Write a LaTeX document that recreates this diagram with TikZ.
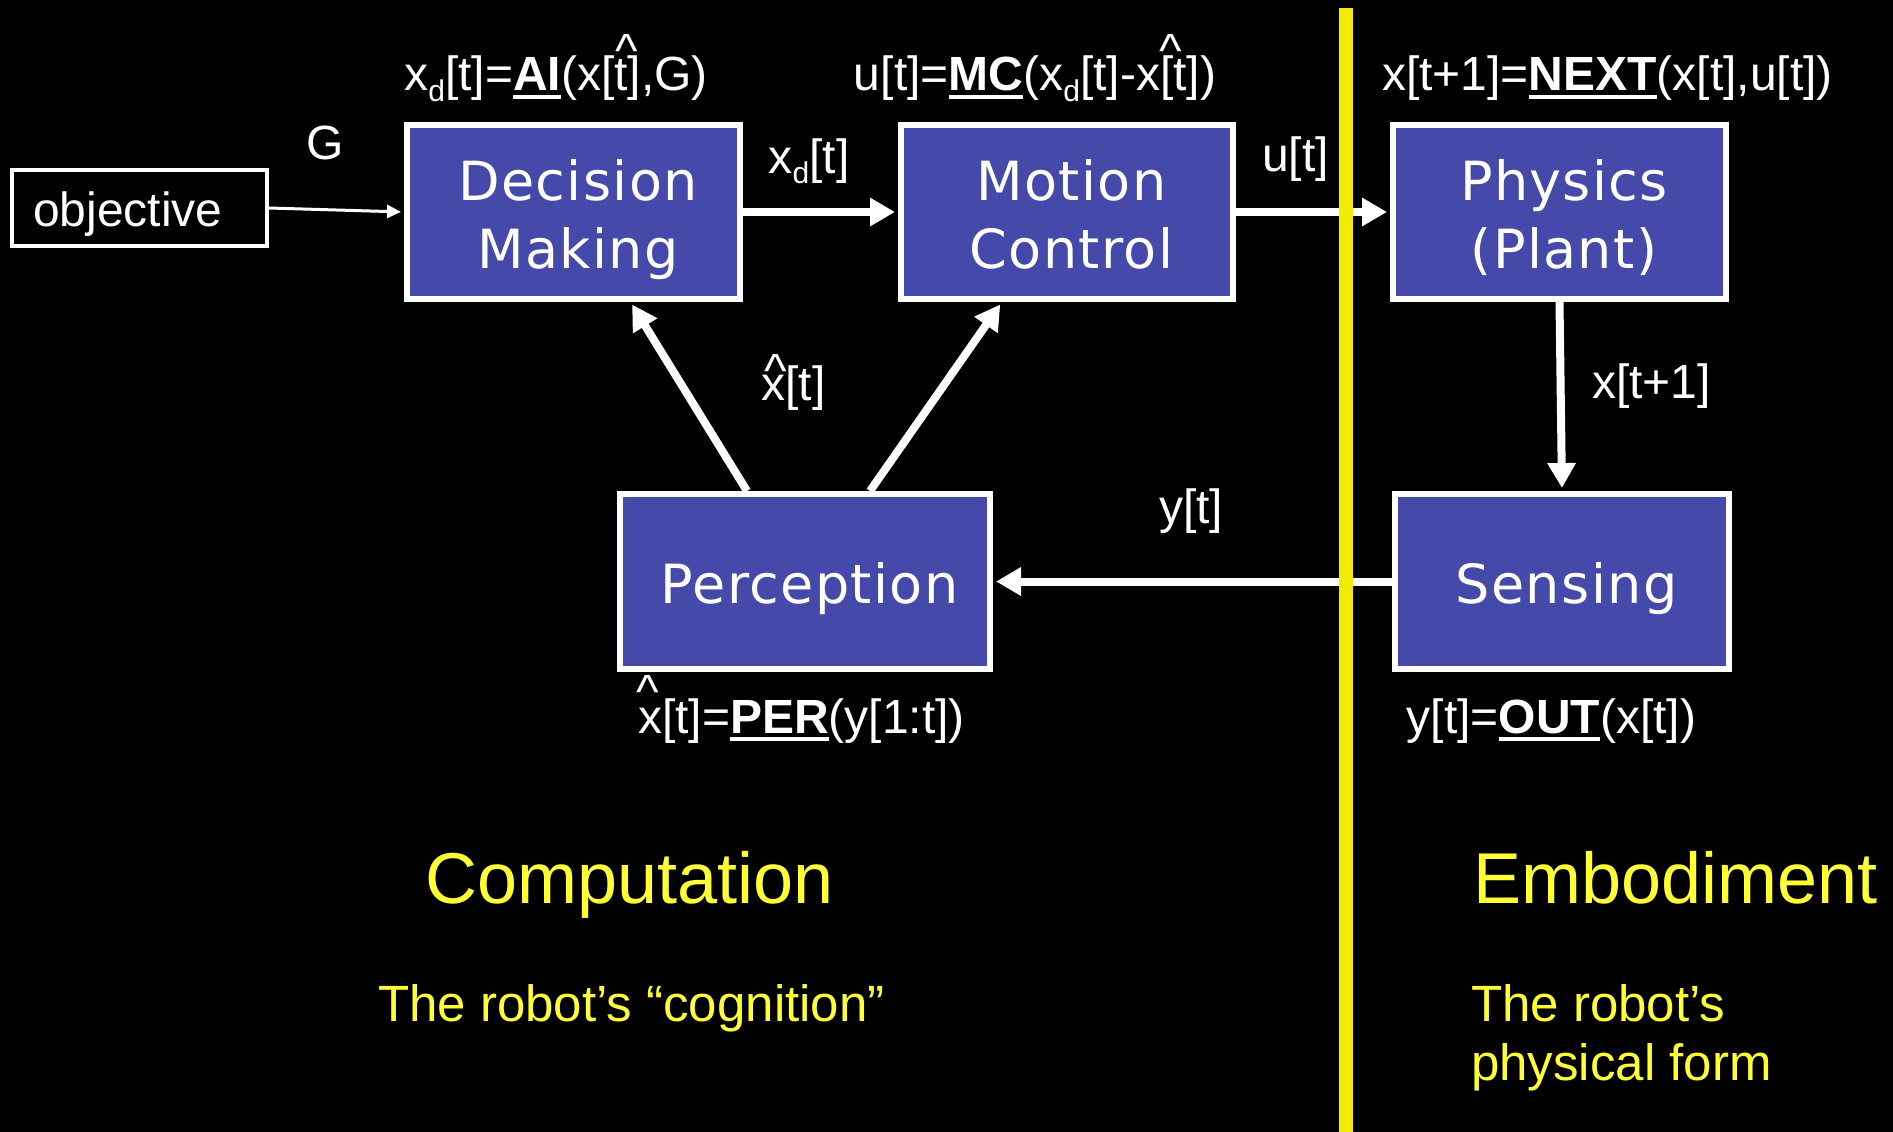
\documentclass[tikz,border=0pt]{standalone}
\usepackage{fontspec}
\setmainfont{Liberation Sans}
\newfontfamily\labfont{Liberation Sans}
\newfontfamily\boxfont[LetterSpace=2.5]{DejaVu Sans}
\usetikzlibrary{arrows.meta,calc}
\definecolor{boxblue}{RGB}{69,73,170}
\definecolor{divyellow}{RGB}{245,235,0}
\definecolor{txtyellow}{RGB}{255,255,51}
\newcommand\myul[1]{\setbox0\hbox{#1}\rlap{\rule[-8pt]{\wd0}{4pt}}\box0}
\newcommand\mysub[1]{\raisebox{-10.5pt}{\fontsize{30}{30}\selectfont #1}}
\newcommand\bx{\hspace*{9pt}}
\begin{document}
\begin{tikzpicture}[x=1pt,y=-1pt,
  blk/.style={draw=white, line width=6pt, fill=boxblue, text=white,
    font=\boxfont\fontsize{54}{68}\selectfont, align=center, inner sep=0pt,
    minimum height=174pt, text depth=0pt},
  blktwo/.style={blk, text height=112pt},
  blkone/.style={blk, text height=43pt},
  lab/.style={text=white, font=\labfont\fontsize{48}{58}\selectfont, inner sep=0pt, anchor=base},
  yel/.style={text=txtyellow, inner sep=0pt, anchor=base west},
  thickarrow/.style={draw=white, line width=8pt, -{Triangle[length=25pt,width=27pt]}, shorten >=3pt},
  thinarrow/.style={draw=white, line width=3pt, -{Triangle[length=14pt,width=13pt]}, shorten >=3pt}
]
\useasboundingbox (0,0) rectangle (1893,1132);
\fill[black] (0,0) rectangle (1893,1132);

% objective box
\node[draw=white, line width=4pt, fill=black, text=white, inner sep=0pt,
  minimum width=255pt, minimum height=76pt, text height=36pt, text depth=0pt,
  font=\labfont\fontsize{48}{58}\selectfont] (obj) at (139.5,208) {\kern-23pt objective};

% blocks
\node[blktwo, minimum width=333pt] (dm) at (573.5,212) {\bx Decision\\\bx Making};
\node[blktwo, minimum width=332pt] (mc) at (1067,212) {\bx Motion\\\bx Control};
\node[blktwo, minimum width=333pt] (ph) at (1559.5,212) {\bx Physics\\\bx (Plant)};
\node[blkone, minimum width=334pt, minimum height=175pt] (se) at (1562,581.5) {\bx Sensing};
\node[blkone, minimum width=370pt, minimum height=175pt] (pe) at (805,581.5) {\bx Perception};

% connectors
\draw[thinarrow] (obj.east) -- (dm.west);
\draw[thickarrow] (dm.east) -- (mc.west);
\draw[thickarrow] (mc.east) -- (ph.west);
\draw[thickarrow] (ph.south) -- (se.north);
\draw[thickarrow] (se.west) -- (pe.east);
\draw[thickarrow] ($(pe.north)+(-58,0)$) -- ($(dm.south)+(57,0)$);
\draw[thickarrow] ($(pe.north)+(65,0)$) -- ($(mc.south)+(-65,0)$);

% divider
\coordinate (divtop) at (1346,8);
\coordinate (divbot) at (1346,1132);
\draw[divyellow, line width=14pt] (divtop) -- (divbot);

% formulas
\node[lab] (fAI) at (556,91) {x\mysub{d}[t]=\myul{\textbf{AI}}(x[t],G)};
\node[lab] (hatAI) at (626.5,67) {\textasciicircum};
\node[lab] (fMC) at (1035,91) {u[t]=\myul{\textbf{MC}}(x\mysub{d}[t]-x[t])};
\node[lab] (hatMC) at (1170.5,67) {\textasciicircum};
\node[lab] (fNEXT) at (1607.5,91) {x[t+1]=\myul{\textbf{NEXT}}(x[t],u[t])};
\node[lab] (fPER) at (801.5,733) {x[t]=\myul{\textbf{PER}}(y[1:t])};
\node[lab] (hatPER) at (648,708) {\textasciicircum};
\node[lab] (fOUT) at (1551.5,733) {y[t]=\myul{\textbf{OUT}}(x[t])};

% arrow labels
\node[lab] (lG) at (325,159.5) {G};
\node[lab] (lxd) at (809,173) {x\mysub{d}[t]};
\node[lab] (lu) at (1295.5,171) {u[t]};
\node[lab] (lxhat) at (793.5,400.7) {x[t]};
\node[lab] (hatmid) at (776,387) {\textasciicircum};
\node[lab] (lx1) at (1651.5,398) {x[t+1]};
\node[lab] (ly) at (1191,523.5) {y[t]};

% yellow texts
\node[yel, font=\fontsize{72}{86}\selectfont] (comp) at (425,903) {Computation};
\node[yel, font=\fontsize{72}{86}\selectfont] (emb) at (1473,903) {Embodiment};
\node[yel, font=\fontsize{51}{59}\selectfont] (cog) at (378,1021.6) {The robot’s “cognition”};
\node[yel, font=\fontsize{51}{59}\selectfont] (phys1) at (1471,1021.6) {The robot’s};
\node[yel, font=\fontsize{51}{59}\selectfont] (phys2) at (1471,1080.2) {physical form};
\end{tikzpicture}
\end{document}
